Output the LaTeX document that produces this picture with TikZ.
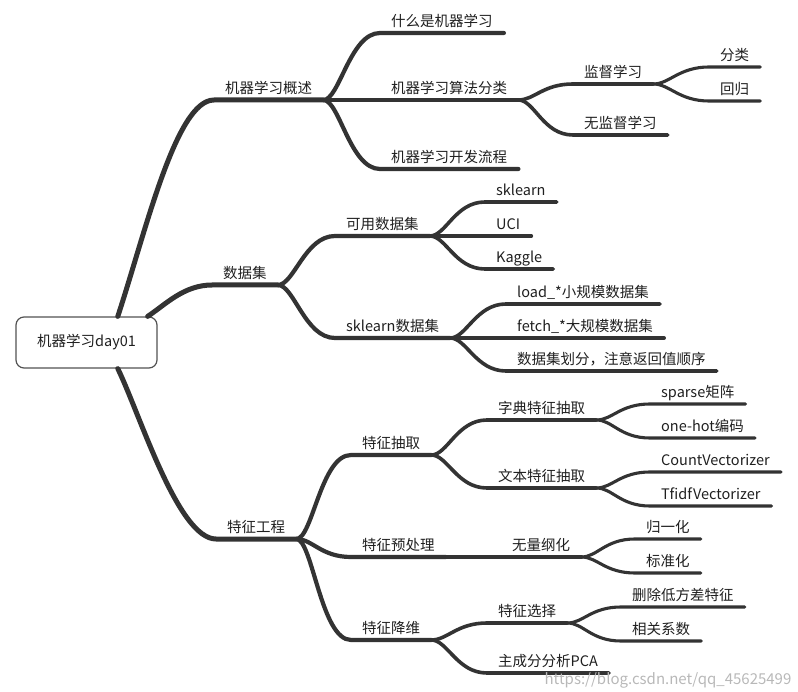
\documentclass[tikz,border=0pt]{standalone}
\usepackage{fontspec}
\setmainfont{Noto Sans CJK SC}
\usetikzlibrary{calc}
\definecolor{branch}{HTML}{333333}
\definecolor{ink}{HTML}{1F1F1F}

\tikzset{
  topic/.style={anchor=south west, inner xsep=11pt, inner ysep=6pt, text depth=0pt,
    text=ink, font=\fontsize{14.5}{16}\selectfont},
  rootbox/.style={draw=branch!85, line width=1.2pt, rounded corners=8pt, fill=white,
    minimum width=141pt, minimum height=51pt, text=ink, font=\fontsize{14.5}{16}\selectfont},
  lvl1/.style={draw=branch, line width=5pt, line cap=round},
  lvl2/.style={draw=branch, line width=4.2pt, line cap=round,
    to path={.. controls +(16,0) and +(-30,0) .. (\tikztotarget)}},
  lvl3/.style={draw=branch, line width=3.6pt, line cap=round,
    to path={.. controls +(16,0) and +(-30,0) .. (\tikztotarget)}},
  lvl4/.style={draw=branch, line width=3.1pt, line cap=round,
    to path={.. controls +(16,0) and +(-30,0) .. (\tikztotarget)}}
}

\begin{document}
\begin{tikzpicture}[x=1pt,y=-1pt]
  \useasboundingbox (0,0) rectangle (798,692);

  % root
  \node[rootbox] (root) at (86.5,342.5) {机器学习day01};
  \coordinate (rtop) at ($(root.north west)!0.72!(root.north east)$);
  \coordinate (rtop2) at ($(root.north west)!0.93!(root.north east)$);
  \coordinate (rbot) at ($(root.south west)!0.72!(root.south east)$);

  % first level
  \node[topic] (ov) at (214,100) {机器学习概述};
  \node[topic] (ds) at (212,285) {数据集};
  \node[topic] (fe) at (216,539) {特征工程};

  % overview
  \node[topic] (what) at (380,33) {什么是机器学习};
  \node[topic] (algo) at (380,100) {机器学习算法分类};
  \node[topic] (flow) at (380,169) {机器学习开发流程};
  \node[topic] (sup) at (573,84) {监督学习};
  \node[topic] (unsup) at (573,135) {无监督学习};
  \node[topic] (cls) at (709,67) {分类};
  \node[topic] (reg) at (709,101) {回归};

  % datasets
  \node[topic] (avail) at (335,236) {可用数据集};
  \node[topic] (skds) at (335,338) {sklearn数据集};
  \node[topic] (skl) at (485,202) {sklearn};
  \node[topic] (uci) at (485,236) {UCI};
  \node[topic] (kag) at (485,269) {Kaggle};
  \node[topic] (load) at (506,304) {load\_*小规模数据集};
  \node[topic] (fetch) at (506,338) {fetch\_*大规模数据集};
  \node[topic] (split) at (506,371) {数据集划分，注意返回值顺序};

  % feature engineering
  \node[topic] (extr) at (351,455) {特征抽取};
  \node[topic] (prep) at (351,557) {特征预处理};
  \node[topic] (dimr) at (351,640) {特征降维};
  \node[topic] (dict) at (487,420) {字典特征抽取};
  \node[topic] (txt) at (487,488) {文本特征抽取};
  \node[topic] (nodim) at (501,557) {无量纲化};
  \node[topic] (fsel) at (487,623) {特征选择};
  \node[topic] (pca) at (487,673) {主成分分析PCA};
  \node[topic] (sparse) at (650,404) {sparse矩阵};
  \node[topic] (onehot) at (650,438) {one-hot编码};
  \node[topic] (cv) at (650,472) {CountVectorizer};
  \node[topic] (tfidf) at (650,506) {TfidfVectorizer};
  \node[topic] (norm) at (635,539) {归一化};
  \node[topic] (std) at (635,573) {标准化};
  \node[topic] (lowvar) at (621,607) {删除低方差特征};
  \node[topic] (corr) at (621,641) {相关系数};

  % branches from root
  \draw[lvl1] (rtop) .. controls +(28,-85) and +(-38,0) .. (ov.south west) -- (ov.south east);
  \draw[lvl1] (rtop2) .. controls +(18,-12) and +(-28,0) .. (ds.south west) -- (ds.south east);
  \draw[lvl1] (rbot) .. controls +(22,45) and +(-38,0) .. (fe.south west) -- (fe.south east);

  % second level
  \foreach \kid in {what,algo,flow}
    \draw[lvl2] (ov.south east) to (\kid.south west) -- (\kid.south east);
  \foreach \kid in {avail,skds}
    \draw[lvl2] (ds.south east) to (\kid.south west) -- (\kid.south east);
  \foreach \kid in {extr,prep,dimr}
    \draw[lvl2] (fe.south east) to (\kid.south west) -- (\kid.south east);

  % third level
  \foreach \kid in {sup,unsup}
    \draw[lvl3] (algo.south east) to (\kid.south west) -- (\kid.south east);
  \foreach \kid in {skl,uci,kag}
    \draw[lvl3] (avail.south east) to (\kid.south west) -- (\kid.south east);
  \foreach \kid in {load,fetch,split}
    \draw[lvl3] (skds.south east) to (\kid.south west) -- (\kid.south east);
  \foreach \kid in {dict,txt}
    \draw[lvl3] (extr.south east) to (\kid.south west) -- (\kid.south east);
  \draw[lvl3] (prep.south east) to (nodim.south west) -- (nodim.south east);
  \foreach \kid in {fsel,pca}
    \draw[lvl3] (dimr.south east) to (\kid.south west) -- (\kid.south east);

  % fourth level
  \foreach \kid in {cls,reg}
    \draw[lvl4] (sup.south east) to (\kid.south west) -- (\kid.south east);
  \foreach \kid in {sparse,onehot}
    \draw[lvl4] (dict.south east) to (\kid.south west) -- (\kid.south east);
  \foreach \kid in {cv,tfidf}
    \draw[lvl4] (txt.south east) to (\kid.south west) -- (\kid.south east);
  \foreach \kid in {norm,std}
    \draw[lvl4] (nodim.south east) to (\kid.south west) -- (\kid.south east);
  \foreach \kid in {lowvar,corr}
    \draw[lvl4] (fsel.south east) to (\kid.south west) -- (\kid.south east);

  % watermark
  \node[text=black!28, font=\fontsize{15}{17}\selectfont] (mark) at (668,680) {https://blog.csdn.net/qq\_45625499};
\end{tikzpicture}
\end{document}
